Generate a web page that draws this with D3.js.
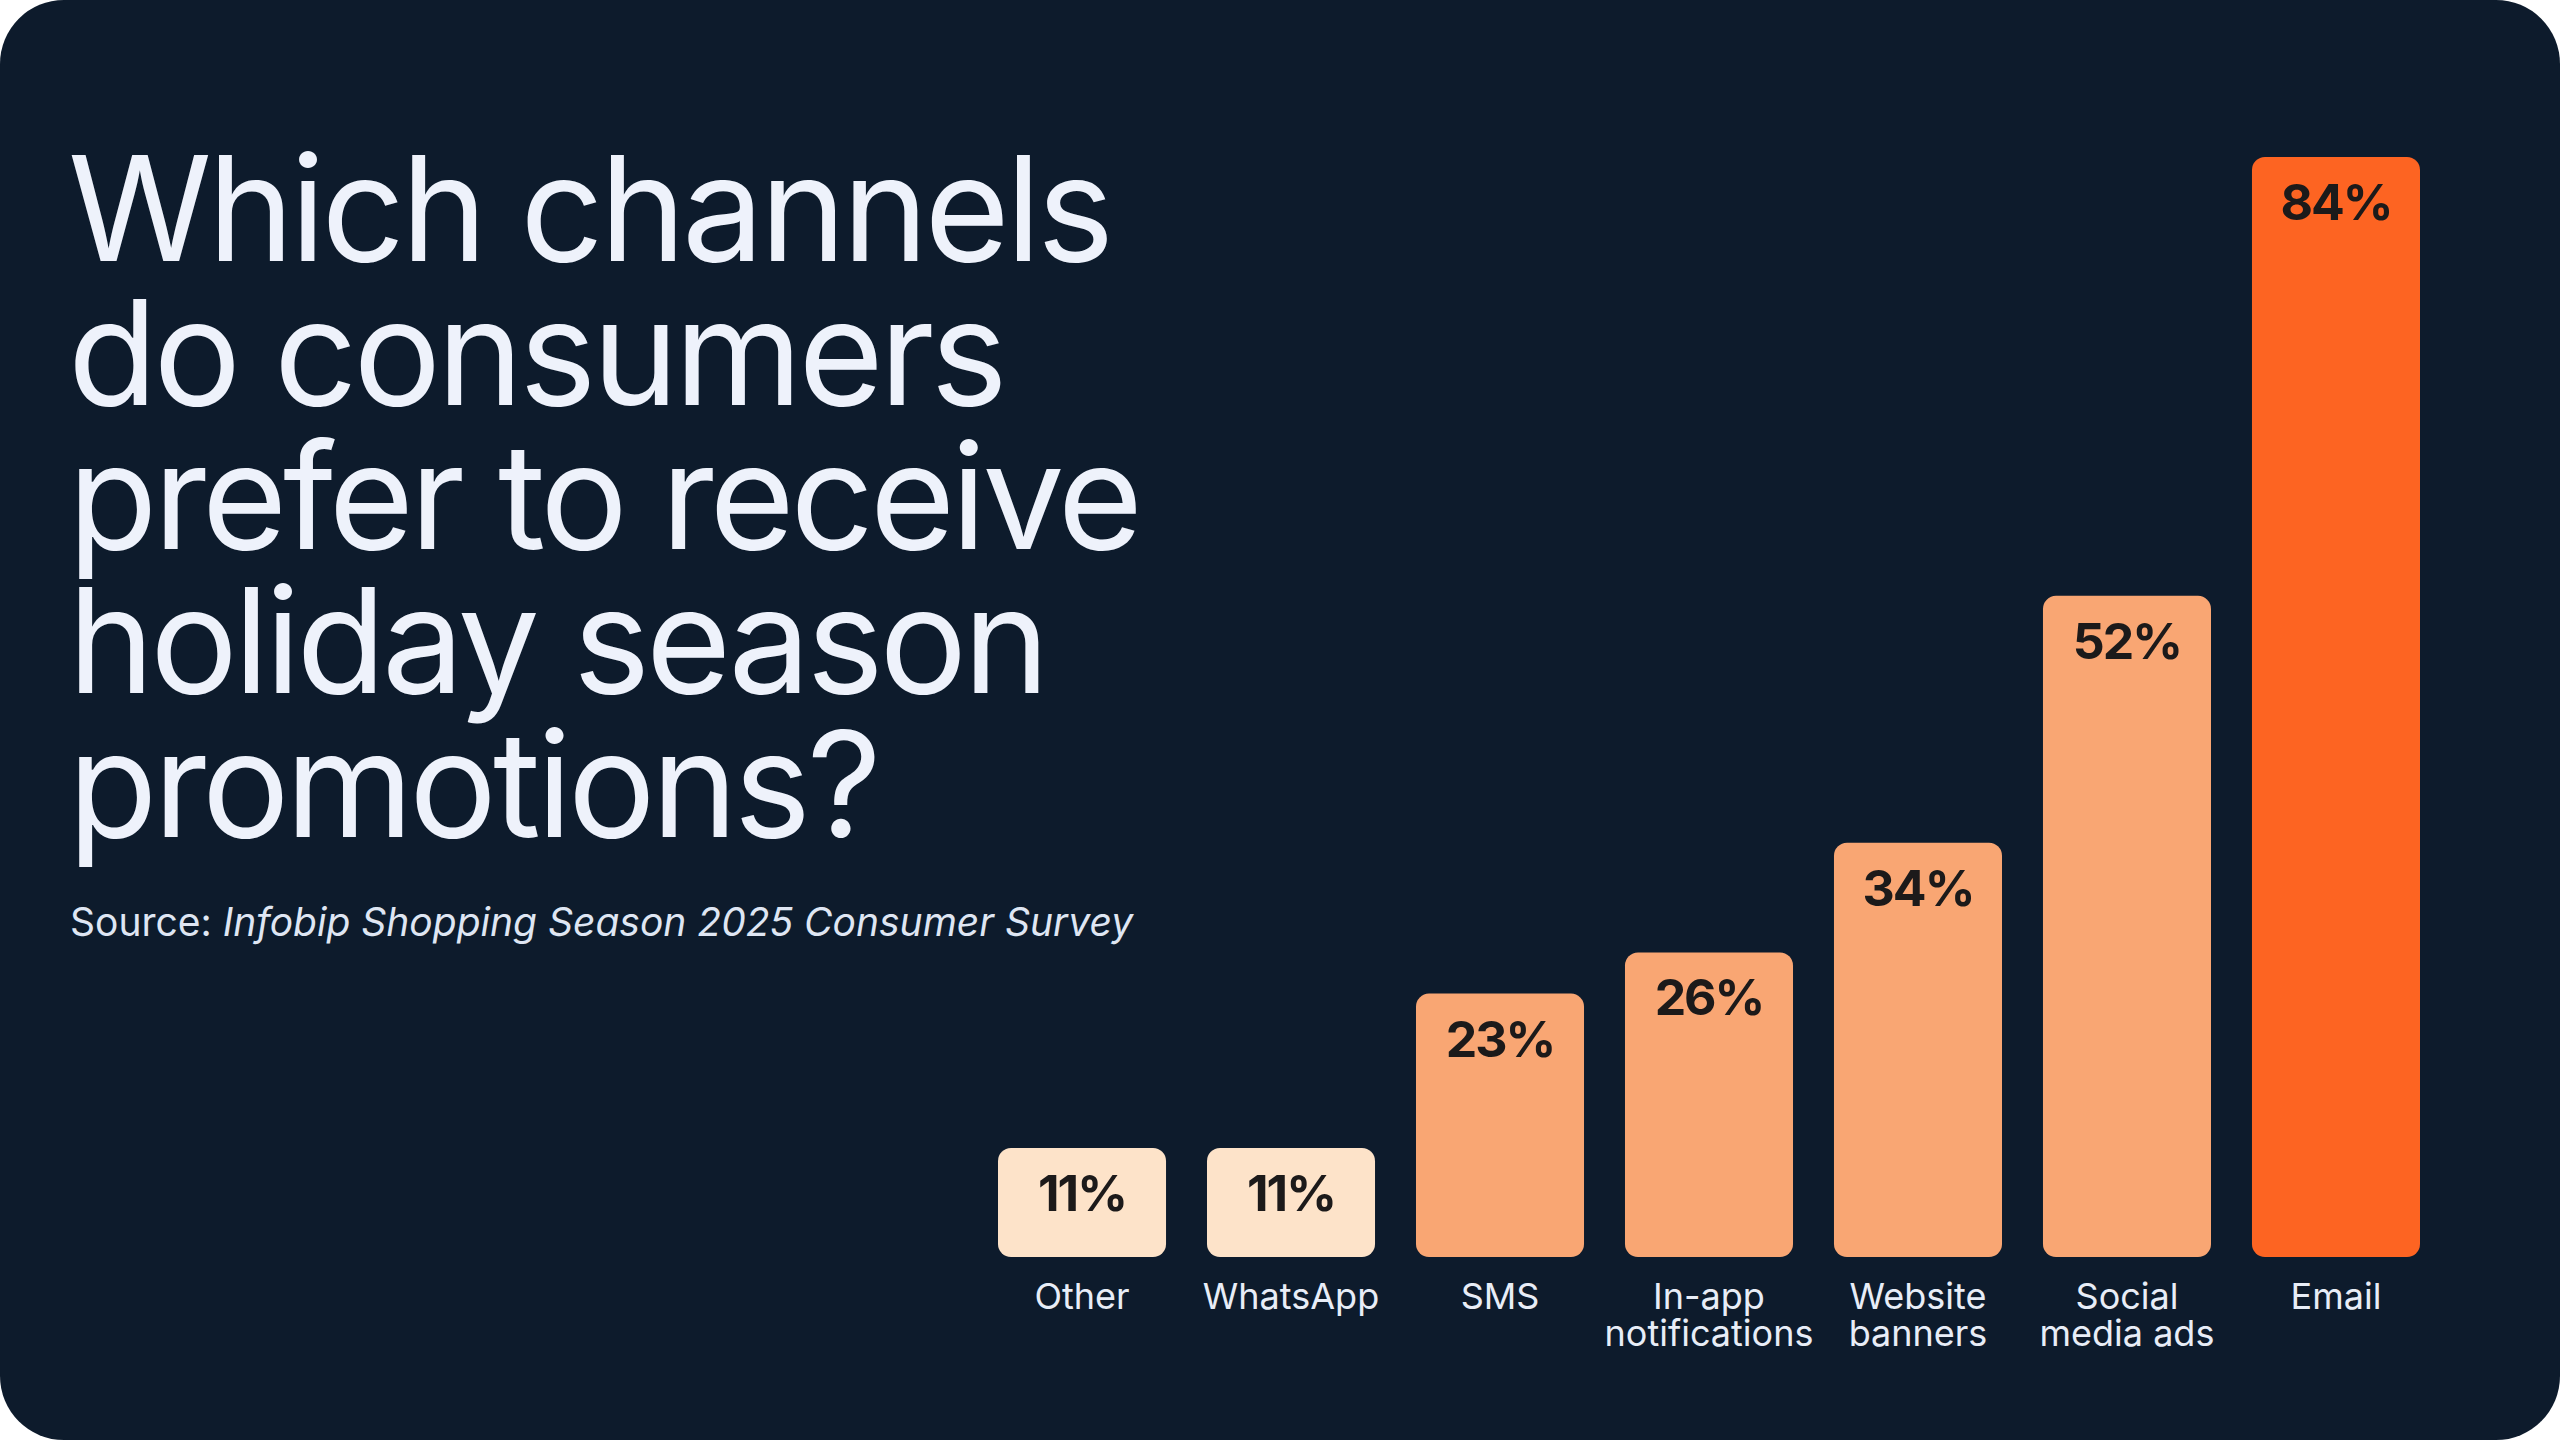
<!DOCTYPE html>
<html><head><meta charset="utf-8">
<script src="https://cdn.jsdelivr.net/npm/d3@7"></script>
<style>html,body{margin:0;padding:0;background:#fff;}svg{display:block;}</style>
</head><body>
<script>
const categories = ["Other","WhatsApp","SMS","In-app\nnotifications","Website\nbanners","Social\nmedia ads","Email"];
const values = [11,11,23,26,34,52,84];
const valueLabels = ["11%","11%","23%","26%","34%","52%","84%"];
const titleLines = ["Which channels","do consumers","prefer to receive","holiday season","promotions?"];
const colors = ["#fde3c9","#fde3c9","#f9a673","#f9a673","#f9a673","#f9a673","#fd6422"];

(function(){
const W=2560,H=1440;
const svg=d3.select("body").append("svg").attr("width",W).attr("height",H);
svg.append("rect").attr("width",W).attr("height",H).attr("rx",64).attr("fill","#0d1b2c");

const t=svg.append("text").attr("font-family","Inter, sans-serif").attr("font-size",146)
  .attr("fill","#eef2fb").attr("letter-spacing",-4);
titleLines.forEach((l,i)=>t.append("tspan").attr("x",68).attr("y",261+i*144).text(l));

const s=svg.append("text").attr("x",70).attr("y",936).attr("font-family","Inter, sans-serif")
  .attr("font-size",39).attr("fill","#dfe6f3");
s.append("tspan").text("Source: ");
s.append("tspan").attr("font-style","italic").text("Infobip Shopping Season 2025 Consumer Survey");

const yBottom=1257, yTop=157;
const x=d3.scaleBand().domain(categories).range([998,998+6*209+168]).paddingInner(0.196).paddingOuter(0);
const y=d3.scaleLinear().domain([0,84]).range([yBottom+52,yTop]);
const minH=109;
const g=svg.append("g");
categories.forEach((c,i)=>{
  const h=Math.max(minH,yBottom-y(values[i]));
  const bx=x(c), bw=x.bandwidth(), by=yBottom-h;
  g.append("rect").attr("x",bx).attr("y",by).attr("width",bw).attr("height",h).attr("rx",13).attr("fill",colors[i]);
  g.append("text").attr("x",bx+bw/2).attr("y",by+63).attr("text-anchor","middle")
    .attr("font-family","Inter, sans-serif").attr("font-weight",700).attr("font-size",50)
    .attr("letter-spacing",-2).attr("fill","#1c1a1a").text(valueLabels[i]);
  const lt=g.append("text").attr("text-anchor","middle").attr("font-family","Inter, sans-serif")
    .attr("font-size",36).attr("fill","#e8edf7");
  c.split("\n").forEach((p,j)=>lt.append("tspan").attr("x",bx+bw/2).attr("y",1309+j*37).text(p));
});
})();
</script>
</body></html>
